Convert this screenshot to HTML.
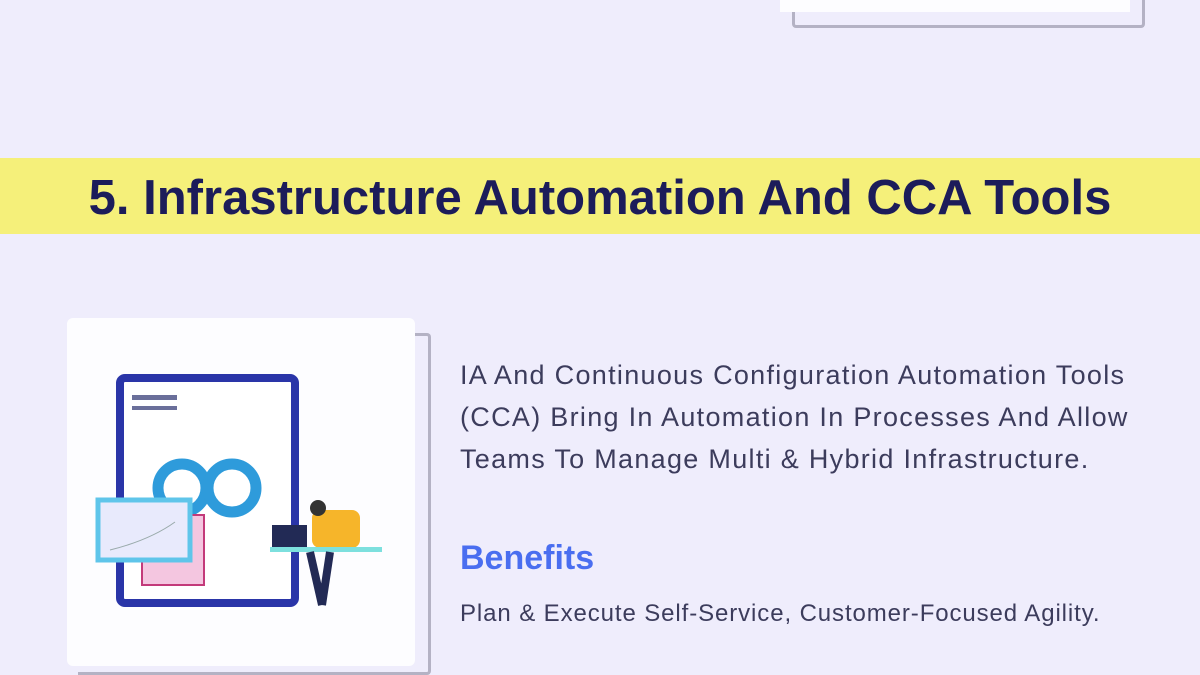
<!DOCTYPE html>
<html><head><meta charset="utf-8"><style>
*{margin:0;padding:0;box-sizing:border-box}
body{width:1200px;height:675px;background:#efedfc;position:relative;overflow:hidden;font-family:"Liberation Sans",sans-serif}
.abs{position:absolute}
</style></head><body>
<div class="abs" style="left:792px;top:-10px;width:353px;height:38px;border:3px solid #b4b2c4;border-top:none;border-radius:0 0 4px 4px"></div>
<div class="abs" style="left:780px;top:0;width:350px;height:12px;background:#fdfdff"></div>
<div class="abs" style="left:0;top:158px;width:1200px;height:76px;background:#f5f07a"></div>
<div class="abs" style="left:0;top:170px;width:1200px;text-align:center;font-size:49px;font-weight:bold;color:#1c1c5a">5. Infrastructure Automation And CCA Tools</div>
<div class="abs" style="left:78px;top:333px;width:353px;height:342px;border:3px solid #b4b2c4;border-left:none;border-radius:0 4px 4px 0"></div>
<div class="abs" style="left:67px;top:318px;width:348px;height:348px;background:#fdfdff;border-radius:6px"></div>
<svg class="abs" style="left:60px;top:310px" width="380" height="365">
<rect x="60" y="68" width="175" height="225" rx="5" fill="#fff" stroke="#2a35a8" stroke-width="8"/>
<rect x="72" y="85" width="45" height="5" fill="#6a6f9a"/><rect x="72" y="96" width="45" height="4" fill="#6a6f9a"/>
<circle cx="122" cy="178" r="24" fill="none" stroke="#2e9bdb" stroke-width="11"/>
<circle cx="172" cy="178" r="24" fill="none" stroke="#2e9bdb" stroke-width="11"/>
<rect x="82" y="205" width="62" height="70" fill="#f4c6e0" stroke="#c33a7a" stroke-width="2"/>
<rect x="38" y="190" width="92" height="60" fill="#e8eafc" stroke="#5fc5ea" stroke-width="5"/>
<path d="M50 240 Q90 230 115 212" stroke="#9aa" fill="none"/>
<rect x="212" y="215" width="35" height="22" fill="#222a55"/>
<rect x="252" y="200" width="48" height="38" rx="8" fill="#f6b52a"/>
<circle cx="258" cy="198" r="8" fill="#333"/>
<rect x="210" y="237" width="112" height="5" fill="#7de0de"/>
<path d="M250 242 L262 295 M270 242 L262 295" stroke="#222a55" stroke-width="8"/>
</svg>
<div class="abs" style="left:460px;top:354px;font-size:27px;letter-spacing:1.3px;line-height:42px;color:#3c3c5c;white-space:nowrap">IA And Continuous Configuration Automation Tools<br>(CCA) Bring In Automation In Processes And Allow<br>Teams To Manage Multi &amp; Hybrid Infrastructure.</div>
<div class="abs" style="left:460px;top:539px;font-size:34px;color:#4a6ef0;font-weight:bold">Benefits</div>
<div class="abs" style="left:460px;top:600px;font-size:24px;letter-spacing:0.9px;color:#3c3c5c;white-space:nowrap">Plan &amp; Execute Self-Service, Customer-Focused Agility.</div>
</body></html>
